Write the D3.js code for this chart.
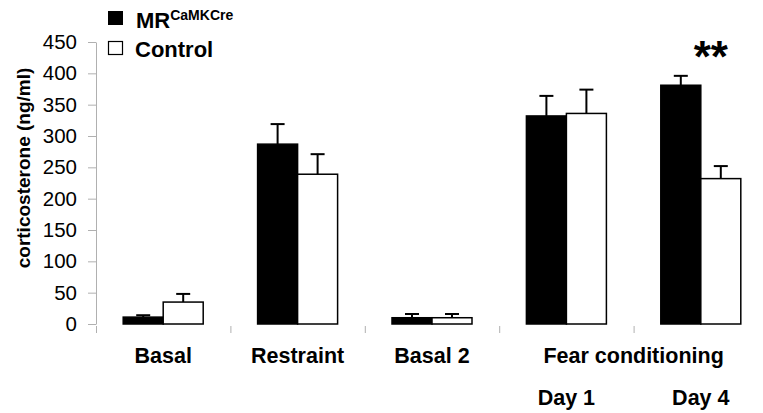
<!DOCTYPE html>
<html>
<head>
<meta charset="utf-8">
<script src="https://cdn.jsdelivr.net/npm/d3@7"></script>
<style>
  body { margin: 0; background: #fff; }
  text { font-family: "Liberation Sans", Arial, sans-serif; }
  .axis path, .axis line { stroke: #b0b0b0; }
</style>
</head>
<body>
<div id="canvas"></div>
<script>
// Data
var categories = ['Basal', 'Restraint', 'Basal 2', 'Day 1', 'Day 4'];
var mrValues = [11, 287, 10, 332, 381];
var mrErrors = [3, 32, 6, 32, 15];
var ctrlValues = [35, 239, 10, 336, 232];
var ctrlErrors = [13, 32, 6, 38, 20];
var yTicks = [0, 50, 100, 150, 200, 250, 300, 350, 400, 450];

var W = 763, H = 413;

var svg = d3.select('#canvas')
  .append('svg')
  .attr('width', W)
  .attr('height', H);

// Scales
var x = d3.scaleBand()
  .domain(categories)
  .range([96, 768]);

var y = d3.scaleLinear()
  .domain([0, 450])
  .range([324, 42]);

var barW = 40;

// Axis
var axisY = d3.axisLeft(y)
  .tickValues(yTicks)
  .tickSize(8)
  .tickSizeOuter(0);

svg.append('g')
  .attr('class', 'axis')
  .attr('transform', 'translate(96,0)')
  .call(axisY)
  .selectAll('text')
  .attr('x', -19)
  .style('font-size', '20.5px')
  .style('fill', '#000');

// category separators below baseline
var sep = d3.scaleLinear().domain([0, 5]).range([96, 768]);
var axisX = d3.axisBottom(sep)
  .tickValues([0, 1, 2, 3, 4])
  .tickSize(7)
  .tickFormat('');
svg.append('g')
  .attr('class', 'axis')
  .attr('transform', 'translate(0,326)')
  .call(axisX)
  .select('.domain').remove();

// bars
var series = [
  {vals: mrValues, errs: mrErrors, fill: '#000', off: -barW},
  {vals: ctrlValues, errs: ctrlErrors, fill: '#fff', off: 0}
];

series.forEach(function(s){
  var g = svg.append('g');
  var cx = function(d, i){ return x(categories[i]) + x.bandwidth() / 2 + s.off; };

  // error bars
  g.selectAll('.err').data(s.vals).enter()
    .append('line')
    .attr('x1', function(d, i){ return cx(d, i) + barW / 2; })
    .attr('x2', function(d, i){ return cx(d, i) + barW / 2; })
    .attr('y1', function(d){ return y(d); })
    .attr('y2', function(d, i){ return y(d + s.errs[i]); })
    .attr('stroke', '#000')
    .attr('stroke-width', 2);
  g.selectAll('.cap').data(s.vals).enter()
    .append('line')
    .attr('x1', function(d, i){ return cx(d, i) + barW / 2 - 7; })
    .attr('x2', function(d, i){ return cx(d, i) + barW / 2 + 7; })
    .attr('y1', function(d, i){ return y(d + s.errs[i]); })
    .attr('y2', function(d, i){ return y(d + s.errs[i]); })
    .attr('stroke', '#000')
    .attr('stroke-width', 2);

  g.selectAll('rect').data(s.vals).enter()
    .append('rect')
    .attr('x', function(d, i){ return cx(d, i); })
    .attr('y', function(d){ return y(d); })
    .attr('width', barW)
    .attr('height', function(d){ return y(0) - y(d); })
    .attr('fill', s.fill)
    .attr('stroke', '#000')
    .attr('stroke-width', 1.5);
});

// y label
svg.append('text')
  .attr('transform', 'translate(30,168) rotate(-90)')
  .attr('text-anchor', 'middle')
  .style('font-size', '19px')
  .style('font-weight', 'bold')
  .text('corticosterone (ng/ml)');

// x labels
['Basal', 'Restraint', 'Basal 2'].forEach(function(c){
  svg.append('text')
    .attr('x', x(c) + x.bandwidth() / 2)
    .attr('y', 363)
    .attr('text-anchor', 'middle')
    .style('font-size', '21.5px')
    .style('font-weight', 'bold')
    .text(c);
});
svg.append('text')
  .attr('x', (x('Day 1') + x('Day 4')) / 2 + x.bandwidth() / 2)
  .attr('y', 363)
  .attr('text-anchor', 'middle')
  .style('font-size', '21.5px')
  .style('font-weight', 'bold')
  .text('Fear conditioning');
['Day 1', 'Day 4'].forEach(function(c){
  svg.append('text')
    .attr('x', x(c) + x.bandwidth() / 2)
    .attr('y', 405)
    .attr('text-anchor', 'middle')
    .style('font-size', '21.5px')
    .style('font-weight', 'bold')
    .text(c);
});

// significance
svg.append('text')
  .attr('x', x('Day 4') + x.bandwidth() / 2 + 10)
  .attr('y', 72)
  .attr('text-anchor', 'middle')
  .style('font-size', '44px')
  .style('font-weight', 'bold')
  .text('**');

// legend
svg.append('rect')
  .attr('x', 108).attr('y', 11).attr('width', 15).attr('height', 14)
  .attr('fill', '#000');
var mr = svg.append('text')
  .attr('x', 136).attr('y', 28)
  .style('font-size', '22px')
  .style('font-weight', 'bold');
mr.append('tspan').text('MR');
mr.append('tspan')
  .attr('dy', -8)
  .style('font-size', '14px')
  .text('CaMKCre');

svg.append('rect')
  .attr('x', 108.5).attr('y', 41.5).attr('width', 14).attr('height', 13)
  .attr('fill', '#fff')
  .attr('stroke', '#000')
  .attr('stroke-width', 1.2);
svg.append('text')
  .attr('x', 135).attr('y', 57)
  .style('font-size', '22px')
  .style('font-weight', 'bold')
  .text('Control');
</script>
</body>
</html>
